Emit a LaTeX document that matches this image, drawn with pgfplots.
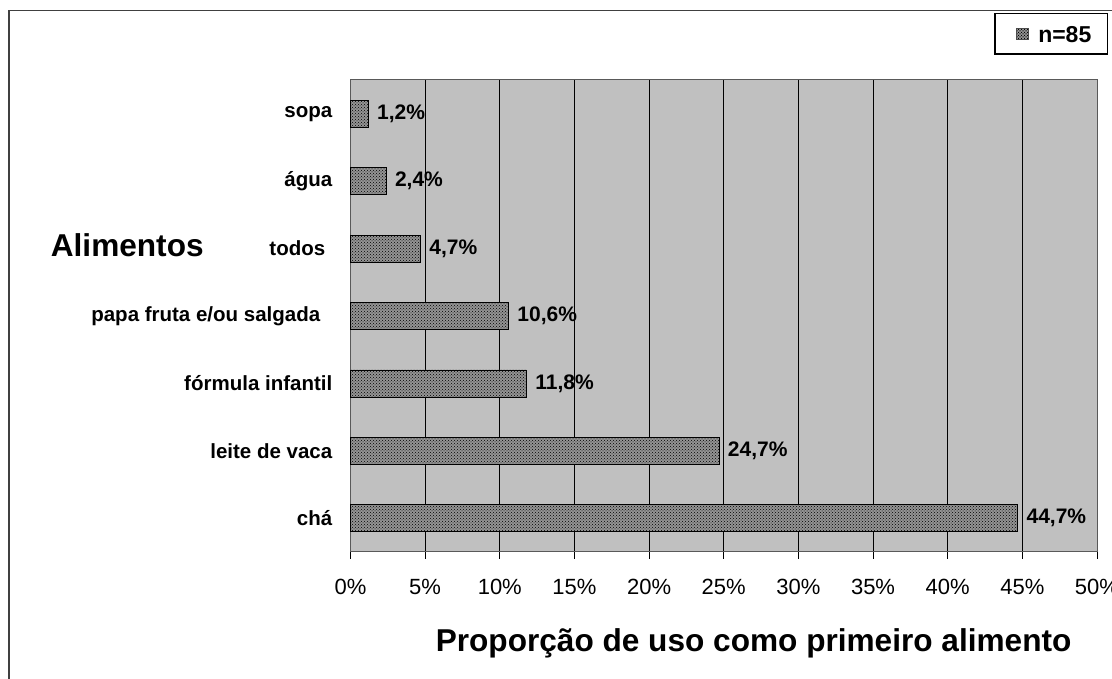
\documentclass[border=0pt]{standalone}
\usepackage{pgfplots}
\pgfplotsset{compat=1.18}
\usepackage{pgfplotstable}
\usepackage{fontspec}
\setmainfont{Liberation Sans}
\usetikzlibrary{patterns}

\definecolor{plotbg}{RGB}{192,192,192}
\definecolor{barfill}{RGB}{148,148,148}

\pgfplotstableread{
y val lab
0 44.7 44,7
1 24.7 24,7
2 11.8 11,8
3 10.6 10,6
4 4.7 4,7
5 2.4 2,4
6 1.2 1,2
}\datatab

\begin{document}
\begin{tikzpicture}
\begin{axis}[
  width=746.5pt, height=472pt, scale only axis,
  xmin=0, xmax=50, ymin=-0.5, ymax=6.5,
  axis background/.style={fill=plotbg},
  axis line style={black!65, line width=1pt},
  xtick={0,5,...,50},
  xticklabels={0\%,5\%,10\%,15\%,20\%,25\%,30\%,35\%,40\%,45\%,50\%},
  xtick pos=bottom, ytick pos=left,
  tick align=outside,
  major tick length=7pt,
  tick style={black, line width=0.9pt},
  xmajorgrids,
  major grid style={black, line width=0.9pt},
  xticklabel style={font=\fontsize{22}{26}\selectfont, anchor=base, yshift=-36pt},
  ytick={0,...,6},
  yticklabels={chá, leite de vaca, fórmula infantil, papa fruta e/ou salgada\kern12pt, todos\kern7pt, água, sopa},
  yticklabel style={font=\fontsize{20.5}{24}\bfseries\selectfont, inner xsep=0pt, xshift=-11pt},
  y tick style={draw=none},
  extra y ticks={-0.5,0.5,...,6.5},
  extra y tick labels={},
  extra y tick style={major tick length=6pt, tick style={black, line width=0.9pt, draw=black}, grid=none},
  xlabel={Proporção de uso como primeiro alimento},
  xlabel style={font=\fontsize{31.6}{36}\bfseries\selectfont, inner sep=0pt, at={(axis description cs:0.54,-0.2112)}, anchor=base},
  ylabel={Alimentos},
  ylabel style={font=\fontsize{31.6}{36}\bfseries\selectfont, inner sep=0pt, rotate=-90, at={(axis description cs:-0.4016,0.6256)}, anchor=base west},
  legend style={at={(axis description cs:1.0147,1.142)}, anchor=north east,
    draw=black, line width=1.3pt, inner xsep=16pt, inner ysep=12pt,
    nodes={inner sep=0pt, text height=16.5pt, text depth=0pt},
    /tikz/every odd column/.append style={column sep=10pt},
    font=\fontsize{23}{27}\bfseries\selectfont},
  legend image code/.code={\path (-5pt,0pt); \draw[line width=0.6pt, draw=black!70, fill=barfill, postaction={pattern=crosshatch dots, pattern color=black}] (0pt,-5.5pt) rectangle (11.5pt,5.5pt);},
  clip=false,
]
\addplot[xbar, bar width=27pt, draw=black, line width=0.8pt, fill=barfill,
  postaction={pattern=crosshatch dots, pattern color=black},
  point meta=explicit symbolic,
  nodes near coords={\pgfplotspointmeta\%},
  nodes near coords style={anchor=west, xshift=5pt, text=black, font=\fontsize{21}{25}\bfseries\selectfont}]
  table[x=val, y=y, meta=lab]{\datatab};
\addlegendentry{n=85}
\coordinate (F1) at (axis description cs:-0.45747,1.14725);
\coordinate (F2) at (axis description cs:1.05760,-0.31356);
\coordinate (BBsw) at (axis description cs:-0.46952,-0.26907);
\coordinate (BBne) at (axis description cs:1.02009,1.16949);
\end{axis}
\draw[black!75, line width=1.3pt] (F1) rectangle (F2);
\pgfresetboundingbox
\path[use as bounding box] (BBsw) rectangle (BBne);
\end{tikzpicture}
\end{document}
